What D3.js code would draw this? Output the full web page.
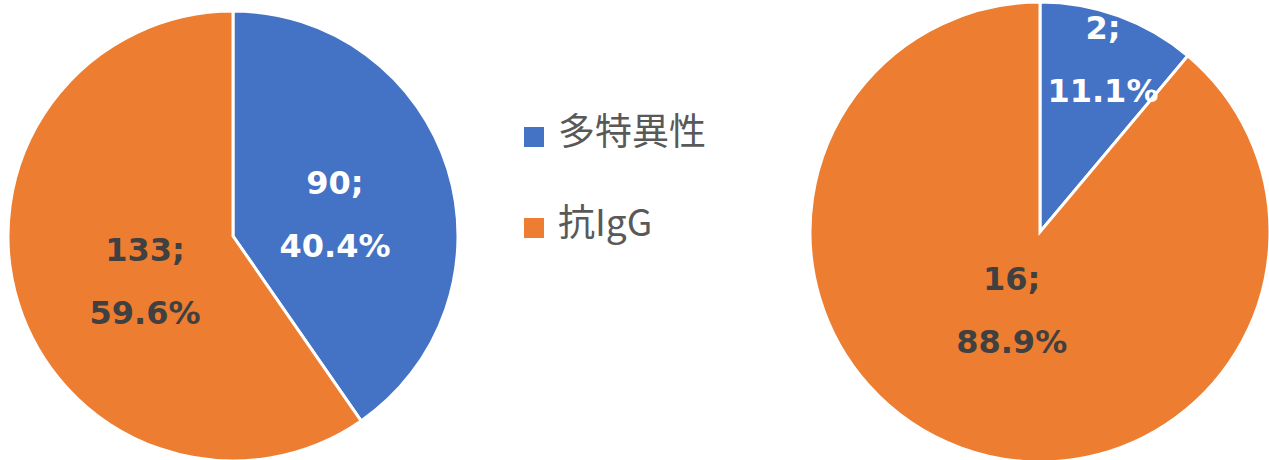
<!DOCTYPE html>
<meta charset="utf-8">
<script src="https://cdn.jsdelivr.net/npm/d3@7"></script>
<style>
body { margin: 0; background: #fff; }
.lbl { font-family: "DejaVu Sans", Verdana, sans-serif; font-weight: bold; font-size: 32px; }
.legend text { font-family: "Noto Sans CJK JP", "DejaVu Sans", sans-serif; font-size: 37px; fill: #595959; }
</style>
<body>
<script>

// data
var categories = ["多特異性", "抗IgG"];
var leftValues = [90, 133];
var rightValues = [2, 16];
var colors = ["#4472c4", "#ed7d31"];
var labelColors = ["#ffffff", "#404040"];

var width = 1269, height = 460;

var svg = d3.select("body").append("svg")
    .attr("width", width)
    .attr("height", height);

// each pie: centre, radius, label distance (fraction of r) and angle nudge (deg) per slice
var pies = [
  {values: leftValues, cx: 233, cy: 236, r: 225, labelR: [0.464, 0.44], nudge: [5, -10]},
  {values: rightValues, cx: 1040, cy: 232, r: 230, labelR: [0.8, 0.36], nudge: [0, 0]}
];

var pie = d3.pie().sort(null).value(function(d) { return d; });

pies.forEach(function(p) {
  var total = d3.sum(p.values);
  var arcs = pie(p.values);
  var arc = d3.arc().innerRadius(0).outerRadius(p.r);

  var g = svg.append("g")
      .attr("transform", "translate(" + p.cx + "," + p.cy + ")");

  g.selectAll("path")
      .data(arcs)
      .enter().append("path")
      .attr("d", arc)
      .attr("fill", function(d, i) { return colors[i]; })
      .attr("stroke", "#fff")
      .attr("stroke-width", 3);

  var lab = g.selectAll("text.lbl")
      .data(arcs)
      .enter().append("text")
      .attr("class", "lbl")
      .attr("fill", function(d, i) { return labelColors[i]; })
      .attr("text-anchor", "middle")
      .attr("transform", function(d, i) {
        var a = (d.startAngle + d.endAngle) / 2 + p.nudge[i] * Math.PI / 180;
        var rr = p.r * p.labelR[i];
        return "translate(" + (Math.sin(a) * rr) + "," + (-Math.cos(a) * rr) + ")";
      });

  lab.append("tspan")
      .attr("x", 0)
      .attr("y", -20)
      .text(function(d) { return d.data + ";"; });
  lab.append("tspan")
      .attr("x", 0)
      .attr("y", 43)
      .text(function(d) { return (d.data / total * 100).toFixed(1) + "%"; });
});

// legend
var legend = svg.append("g").attr("class", "legend")
    .attr("transform", "translate(524,127)");

var item = legend.selectAll("g")
    .data(categories)
    .enter().append("g")
    .attr("transform", function(d, i) { return "translate(0," + (i * 91) + ")"; });

item.append("rect")
    .attr("width", 20)
    .attr("height", 20)
    .attr("fill", function(d, i) { return colors[i]; });

item.append("text")
    .attr("x", 34)
    .attr("y", 18)
    .text(function(d) { return d; });

</script>
</body>
